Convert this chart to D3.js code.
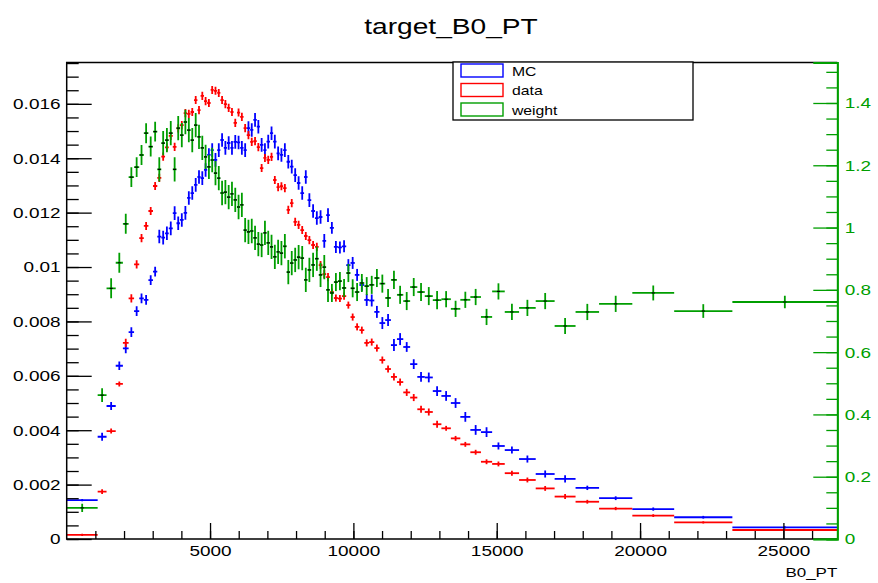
<!DOCTYPE html>
<html>
<head>
<meta charset="utf-8">
<script src="https://cdn.jsdelivr.net/npm/d3@7"></script>
<style>
  body { margin: 0; background: #fff; }
  svg { display: block; font-family: "Liberation Sans", Arial, sans-serif; }
</style>
</head>
<body>
<div id="chart"></div>
<script>
// variable bin edges of B0_PT (MeV)
const binEdges = [0,1080,1390,1710,1960,2160,2350,2530,2690,2850,3010,3160,3300,3430,3560,3700,3830,3950,4080,4200,4320,4440,4560,4670,4790,4900,5020,5130,5250,5360,5480,5590,5710,5820,5940,6050,6170,6280,6400,6510,6630,6740,6860,6970,7090,7200,7320,7430,7550,7670,7790,7910,8030,8150,8280,8400,8530,8660,8790,8920,9050,9180,9320,9460,9600,9750,9900,10050,10210,10380,10550,10730,10910,11110,11310,11520,11740,11980,12230,12490,12770,13070,13400,13730,14080,14450,14840,15280,15780,16360,17020,17750,18570,19730,21190,23220,26880];

// MC (blue), left axis
const mcValues = [0.00143,0.00376,0.00489,0.00637,0.00701,0.00761,0.00838,0.00885,0.00879,0.00952,0.00983,0.01112,0.01108,0.01124,0.01142,0.01198,0.01161,0.01173,0.01199,0.01254,0.01272,0.01302,0.01331,0.01327,0.01357,0.01412,0.0143,0.01394,0.0143,0.01467,0.01438,0.01456,0.01438,0.0146,0.01458,0.01438,0.0143,0.01511,0.01504,0.01541,0.01516,0.01449,0.0143,0.01461,0.01492,0.01461,0.01418,0.01412,0.0143,0.01387,0.01369,0.01338,0.01309,0.01272,0.01331,0.01246,0.01206,0.0118,0.01184,0.01096,0.01191,0.01144,0.01074,0.01072,0.01076,0.01007,0.01015,0.00971,0.00934,0.00879,0.00877,0.00835,0.00794,0.00805,0.00713,0.00735,0.00706,0.00643,0.00596,0.00594,0.00544,0.00526,0.005,0.00449,0.00401,0.00393,0.00342,0.00327,0.00294,0.00239,0.00221,0.00188,0.0015,0.0011,0.0008,0.00043];
const mcErrors = [0.00004,0.00015,0.00015,0.00016,0.00018,0.00018,0.00018,0.00018,0.00018,0.00018,0.00018,0.00025,0.00025,0.00025,0.00025,0.00025,0.00025,0.00025,0.00025,0.00025,0.00025,0.00025,0.00025,0.00025,0.00025,0.00025,0.00025,0.00025,0.00025,0.00025,0.00025,0.00025,0.00025,0.00025,0.00025,0.00025,0.00025,0.00025,0.00025,0.00025,0.00025,0.00025,0.00025,0.00025,0.00025,0.00025,0.00025,0.00025,0.00025,0.00025,0.00025,0.00025,0.00025,0.00025,0.00025,0.00025,0.00025,0.00025,0.00025,0.00025,0.00025,0.00022,0.00022,0.00022,0.00022,0.00022,0.00022,0.00022,0.00022,0.00022,0.00022,0.00022,0.00022,0.00022,0.00022,0.00022,0.00018,0.00018,0.00018,0.00018,0.00018,0.00018,0.00018,0.00018,0.00018,0.00018,0.00013,0.00013,0.00013,0.00013,0.00013,0.00008,0.00007,0.00006,0.00005,0.00004];

// data (red), left axis
const dataValues = [0.00015,0.00174,0.00397,0.0057,0.00721,0.00885,0.0101,0.01106,0.01151,0.01206,0.01298,0.01328,0.01406,0.0144,0.01482,0.01442,0.0151,0.01522,0.01566,0.01563,0.0157,0.01614,0.01577,0.01629,0.0161,0.01603,0.01651,0.01648,0.0164,0.01614,0.01599,0.01585,0.0157,0.0153,0.01568,0.01552,0.01511,0.01485,0.0146,0.01463,0.01441,0.01364,0.01401,0.01394,0.01405,0.0132,0.01294,0.01297,0.0129,0.0121,0.01235,0.01166,0.01155,0.01136,0.01114,0.01099,0.01081,0.01074,0.01007,0.00974,0.00963,0.00908,0.00886,0.00884,0.00893,0.0086,0.00816,0.0078,0.00768,0.00721,0.00724,0.00702,0.00658,0.00625,0.00596,0.00577,0.00539,0.0052,0.00477,0.00467,0.00422,0.00407,0.0037,0.00348,0.00319,0.00284,0.00276,0.00242,0.00217,0.00186,0.00156,0.00137,0.00112,0.00086,0.00061,0.00033];
const dataErrors = [0.00004,0.00009,0.00009,0.00009,0.00015,0.00015,0.00015,0.00015,0.00015,0.00015,0.00015,0.00015,0.00015,0.00015,0.00015,0.00015,0.00015,0.00015,0.00015,0.00015,0.00015,0.00015,0.00015,0.00015,0.00015,0.00015,0.00015,0.00015,0.00015,0.00015,0.00015,0.00015,0.00015,0.00015,0.00015,0.00015,0.00015,0.00015,0.00015,0.00015,0.00015,0.00015,0.00015,0.00015,0.00015,0.00015,0.00015,0.00015,0.00015,0.00015,0.00015,0.00015,0.00015,0.00015,0.00015,0.00015,0.00015,0.00015,0.00015,0.00015,0.00015,0.00013,0.00013,0.00013,0.00013,0.00013,0.00013,0.00013,0.00013,0.00013,0.00013,0.00013,0.00013,0.00013,0.00013,0.00013,0.00013,0.00013,0.00013,0.00013,0.00013,0.00009,0.00009,0.00009,0.00009,0.00009,0.00009,0.00009,0.00009,0.00009,0.00009,0.00007,0.00006,0.00005,0.00004,0.00003];

// weight = data/MC (green), right axis
const weightValues = [0.10,0.462,0.805,0.887,1.012,1.162,1.194,1.233,1.303,1.26,1.308,1.187,1.271,1.281,1.303,1.187,1.319,1.297,1.339,1.313,1.281,1.329,1.291,1.256,1.227,1.195,1.217,1.175,1.159,1.111,1.114,1.098,1.108,1.089,1.066,1.073,0.992,0.986,0.989,0.967,0.947,0.944,0.983,0.951,0.938,0.906,0.922,0.918,0.94,0.857,0.886,0.896,0.905,0.902,0.832,0.864,0.88,0.9,0.848,0.873,0.80,0.79,0.825,0.828,0.806,0.854,0.805,0.793,0.822,0.812,0.816,0.838,0.82,0.774,0.832,0.784,0.764,0.809,0.793,0.78,0.767,0.77,0.739,0.768,0.777,0.713,0.795,0.729,0.742,0.764,0.684,0.729,0.755,0.79,0.732,0.761];
const weightErrors = [0.013,0.022,0.032,0.032,0.032,0.032,0.032,0.032,0.032,0.032,0.032,0.039,0.039,0.039,0.039,0.039,0.039,0.039,0.039,0.039,0.039,0.039,0.039,0.039,0.039,0.039,0.039,0.039,0.039,0.039,0.039,0.039,0.039,0.039,0.039,0.039,0.039,0.039,0.039,0.039,0.039,0.039,0.039,0.039,0.039,0.039,0.039,0.039,0.039,0.039,0.039,0.039,0.039,0.039,0.039,0.039,0.039,0.039,0.039,0.039,0.039,0.029,0.029,0.029,0.029,0.029,0.029,0.029,0.029,0.029,0.029,0.029,0.029,0.029,0.029,0.029,0.029,0.029,0.029,0.029,0.029,0.026,0.026,0.026,0.026,0.026,0.026,0.026,0.026,0.026,0.026,0.026,0.026,0.024,0.022,0.02];

// axis ticks
const xMajorTicks = [5000,10000,15000,20000,25000];
const yLeftTicks = [0,0.002,0.004,0.006,0.008,0.01,0.012,0.014,0.016];
const yRightTicks = [0,0.2,0.4,0.6,0.8,1,1.2,1.4];
const legendLabels = ["MC","data","weight"];

const width = 878, height = 583;
const margin = { top: 62.5, right: 40.7, bottom: 44, left: 66.7 };
const colMC = "#0000ff", colData = "#ff0000", colW = "#009e00";
const stretch = 1.24; // the original canvas text is drawn wider than tall

const svg = d3.select("#chart").append("svg")
  .attr("width", width)
  .attr("height", height);

const x = d3.scaleLinear()
  .domain([0, 26880])
  .range([margin.left, width - margin.right]);
const yL = d3.scaleLinear()
  .domain([0, 0.01752])
  .range([height - margin.bottom, margin.top]);
const yR = d3.scaleLinear()
  .domain([0, 1.53])
  .range([height - margin.bottom, margin.top]);

// one row per bin
const bins = d3.range(mcValues.length).map(i => ({
  lo: binEdges[i], hi: binEdges[i + 1], mid: (binEdges[i] + binEdges[i + 1]) / 2,
  mc: mcValues[i], mcErr: mcErrors[i],
  data: dataValues[i], dataErr: dataErrors[i],
  w: weightValues[i], wErr: weightErrors[i]
}));

svg.append("clipPath").attr("id", "clip").append("rect")
  .attr("x", margin.left).attr("y", margin.top)
  .attr("width", width - margin.left - margin.right)
  .attr("height", height - margin.top - margin.bottom);
const plot = svg.append("g").attr("clip-path", "url(#clip)");

function drawSeries(key, errKey, yScale, color, cls) {
  const g = plot.append("g").attr("class", cls)
    .attr("stroke", color).attr("stroke-width", 1.8).attr("fill", "none");
  g.selectAll("line.h").data(bins).enter().append("line")
    .attr("class", "h")
    .attr("x1", d => x(d.lo)).attr("x2", d => x(d.hi))
    .attr("y1", d => yScale(d[key])).attr("y2", d => yScale(d[key]));
  g.selectAll("line.v").data(bins).enter().append("line")
    .attr("class", "v")
    .attr("x1", d => x(d.mid)).attr("x2", d => x(d.mid))
    .attr("y1", d => yScale(d[key] - d[errKey])).attr("y2", d => yScale(d[key] + d[errKey]));
  return g;
}

drawSeries("mc", "mcErr", yL, colMC, "mc");
drawSeries("data", "dataErr", yL, colData, "data");
drawSeries("w", "wErr", yR, colW, "weight");
// small black markers sitting on the weight points
plot.append("g").selectAll("line").data(bins).enter().append("line")
  .attr("x1", d => x(d.mid) - 1.5).attr("x2", d => x(d.mid) + 1.5)
  .attr("y1", d => yR(d.w)).attr("y2", d => yR(d.w))
  .attr("stroke", "#000").attr("stroke-width", 1.2);

// frame
const x0 = margin.left, x1 = width - margin.right, y0 = height - margin.bottom, y1 = margin.top;
svg.append("path")
  .attr("d", `M${x1},${y1}H${x0}V${y0}H${x1}`)
  .attr("fill", "none").attr("stroke", "#000").attr("stroke-width", 1.5);

// left axis, ticks pointing inwards
const leftMinor = svg.append("g").attr("transform", `translate(${x0},0)`)
  .call(d3.axisLeft(yL).tickValues(d3.range(0, 0.0176, 0.0005)).tickSize(-12).tickFormat(""));
const leftMajor = svg.append("g").attr("transform", `translate(${x0},0)`)
  .call(d3.axisLeft(yL).tickValues(yLeftTicks).tickSize(-25).tickPadding(5)
    .tickFormat(d => String(+d.toFixed(3))));

// bottom axis, ticks pointing up
const botMinor = svg.append("g").attr("transform", `translate(0,${y0})`)
  .call(d3.axisBottom(x).tickValues(d3.range(1000, 26880, 1000)).tickSize(-8).tickFormat(""));
const botMajor = svg.append("g").attr("transform", `translate(0,${y0})`)
  .call(d3.axisBottom(x).tickValues(xMajorTicks).tickSize(-16).tickPadding(6)
    .tickFormat(d3.format("d")));

// right axis in green
const rightMinor = svg.append("g").attr("transform", `translate(${x1},0)`)
  .call(d3.axisRight(yR).tickValues(d3.range(0, 1.53, 0.05)).tickSize(-11).tickFormat(""));
const rightMajor = svg.append("g").attr("transform", `translate(${x1},0)`)
  .call(d3.axisRight(yR).tickValues(yRightTicks).tickSize(-24).tickPadding(6)
    .tickFormat(d => String(+d.toFixed(1))));

[leftMinor, leftMajor, botMinor, botMajor].forEach(g => {
  g.select(".domain").remove();
  g.selectAll("line").attr("stroke", "#000").attr("stroke-width", 1.3);
  g.selectAll("text").attr("fill", "#000").style("font-size", "15.3px")
    .attr("transform", `scale(${stretch},1)`);
});
[rightMinor, rightMajor].forEach(g => {
  g.select(".domain").attr("stroke", colW).attr("stroke-width", 1.8);
  g.selectAll("line").attr("stroke", colW).attr("stroke-width", 1.3);
  g.selectAll("text").attr("fill", colW).style("font-size", "15.3px")
    .attr("transform", `scale(${stretch},1)`);
});

function label(px, py, txt, size, anchor) {
  svg.append("g").attr("transform", `translate(${px},${py})`)
    .append("text")
    .attr("transform", `scale(${stretch},1)`)
    .attr("text-anchor", anchor)
    .style("font-size", size + "px")
    .text(txt);
}

// x axis title and chart title
label(x1, 577, "B0_PT", 13.7, "end");
label(451, 34, "target_B0_PT", 22.7, "middle");

// legend
const leg = svg.append("g");
leg.append("rect")
  .attr("x", 453).attr("y", 62).attr("width", 240).attr("height", 58)
  .attr("fill", "#fff").attr("stroke", "#000").attr("stroke-width", 1.3);
const legColors = [colMC, colData, colW];
legendLabels.forEach((lab, i) => {
  leg.append("rect")
    .attr("x", 461).attr("y", 64 + i * 19.5).attr("width", 42).attr("height", 13)
    .attr("fill", "none").attr("stroke", legColors[i]).attr("stroke-width", 1.4);
  label(512, 75.5 + i * 19.5, lab, 12.7, "start");
});
</script>
</body>
</html>
